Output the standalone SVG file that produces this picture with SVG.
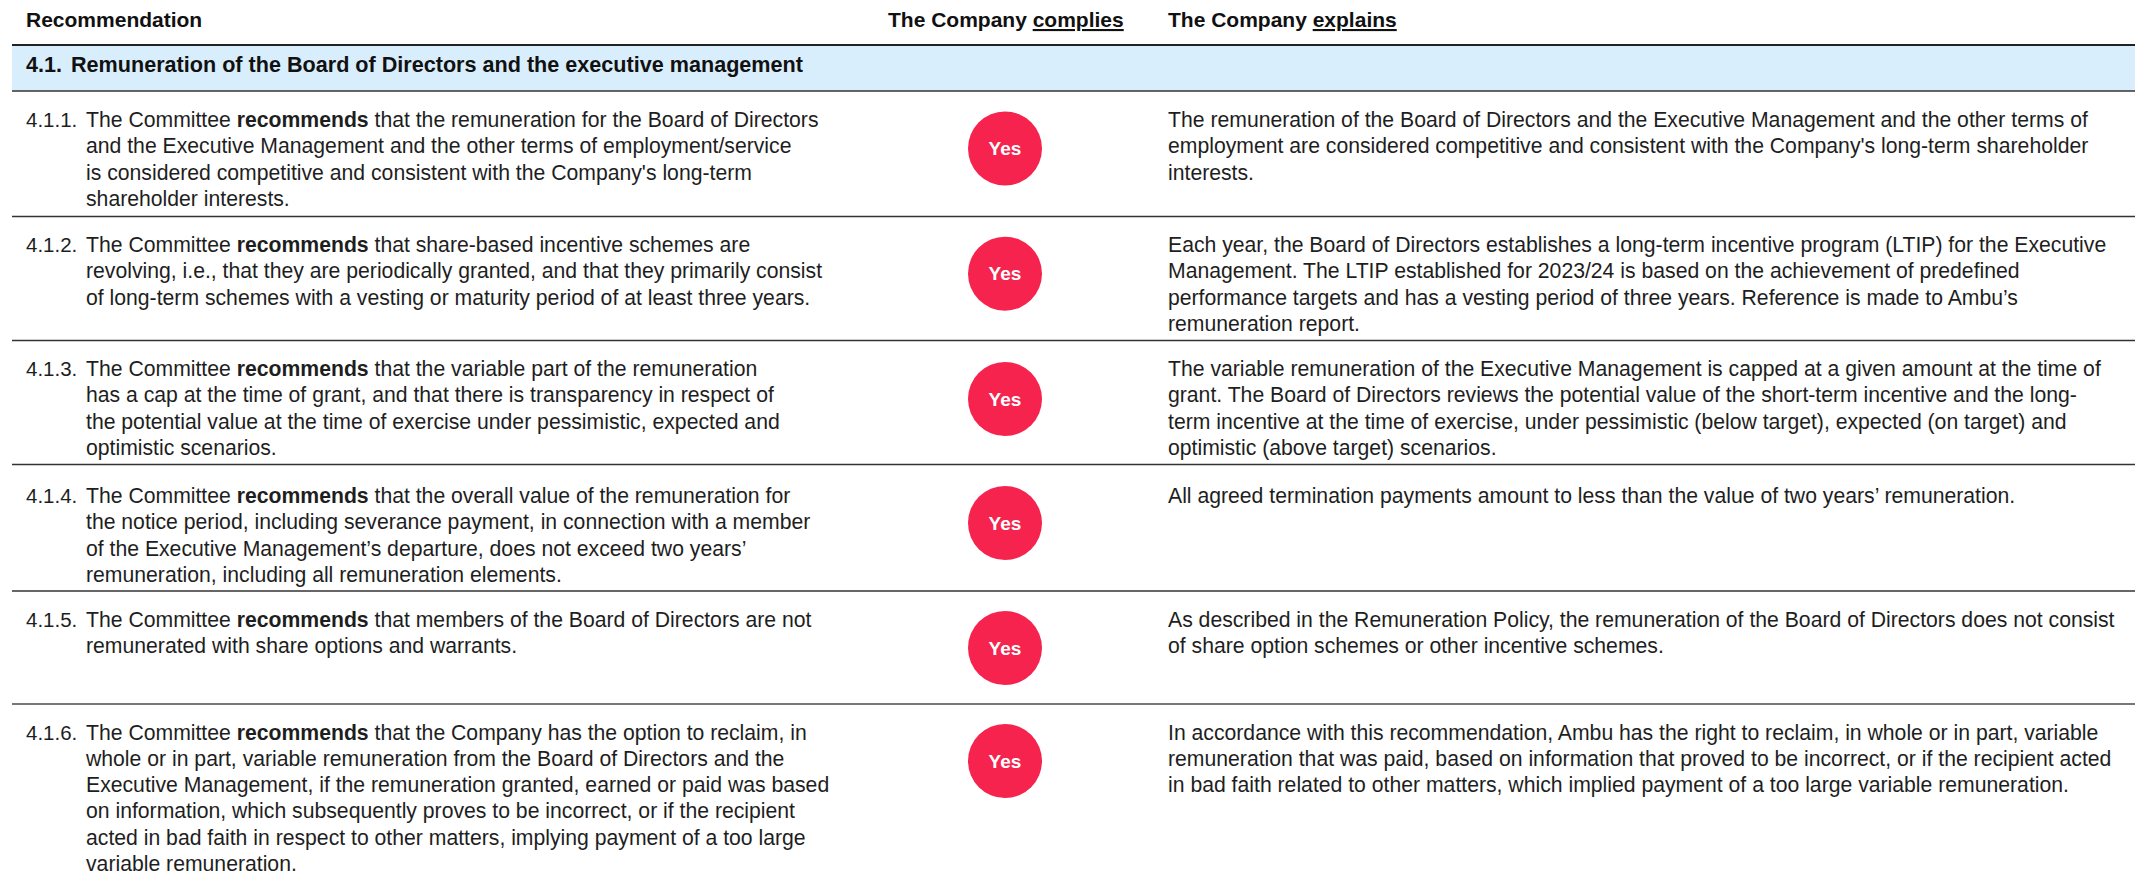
<svg xmlns="http://www.w3.org/2000/svg" width="2135" height="872" viewBox="0 0 2135 872">
<style>
text{font-family:"Liberation Sans",Arial,sans-serif;fill:#1e1e1e;font-size:21.2px}
.h{font-weight:bold;font-size:21px;fill:#111}
.t{font-weight:bold;font-size:21.6px;fill:#111}
.n{font-size:20.5px}
.b{font-weight:bold}
.u{text-decoration:underline}
.yes{font-weight:bold;fill:#fff;font-size:19px;text-anchor:middle}
.sep{stroke:#333;stroke-width:1.5}
.dot{fill:#f5234d}
</style>
<rect width="2135" height="872" fill="#fff"/>
<g id="header">
<text class="h" x="26" y="27">Recommendation</text>
<text class="h" x="888" y="27">The Company <tspan class="u">complies</tspan></text>
<text class="h" x="1168" y="27">The Company <tspan class="u">explains</tspan></text>
</g>
<g id="section">
<rect x="12" y="45" width="2123" height="46" fill="#d9eefc"/>
<line x1="12" y1="45" x2="2135" y2="45" stroke="#222" stroke-width="2"/>
<line x1="12" y1="91" x2="2135" y2="91" stroke="#333" stroke-width="1.5"/>
<text class="t" x="26" y="72">4.1.</text>
<text class="t" x="71" y="72">Remuneration of the Board of Directors and the executive management</text>
</g>
<g id="separators">
<line class="sep" x1="12" y1="216.5" x2="2135" y2="216.5"/>
<line class="sep" x1="12" y1="340.5" x2="2135" y2="340.5"/>
<line class="sep" x1="12" y1="464.5" x2="2135" y2="464.5"/>
<line class="sep" x1="12" y1="591" x2="2135" y2="591"/>
<line x1="12" y1="704" x2="2135" y2="704" stroke="#777" stroke-width="2"/>
</g>
<g id="row-4-1-1">
<text class="n" x="26" y="127">4.1.1.</text>
<text x="86" y="127">The Committee <tspan class="b">recommends</tspan> that the remuneration for the Board of Directors</text>
<text x="86" y="153.3">and the Executive Management and the other terms of employment/service</text>
<text x="86" y="179.6">is considered competitive and consistent with the Company's long-term</text>
<text x="86" y="205.9">shareholder interests.</text>
<circle class="dot" cx="1005" cy="148.5" r="37"/>
<text class="yes" x="1005" y="155">Yes</text>
<text x="1168" y="127">The remuneration of the Board of Directors and the Executive Management and the other terms of</text>
<text x="1168" y="153.3">employment are considered competitive and consistent with the Company's long-term shareholder</text>
<text x="1168" y="179.6">interests.</text>
</g>
<g id="row-4-1-2">
<text class="n" x="26" y="252">4.1.2.</text>
<text x="86" y="252">The Committee <tspan class="b">recommends</tspan> that share-based incentive schemes are</text>
<text x="86" y="278.3">revolving, i.e., that they are periodically granted, and that they primarily consist</text>
<text x="86" y="304.6">of long-term schemes with a vesting or maturity period of at least three years.</text>
<circle class="dot" cx="1005" cy="273.7" r="37"/>
<text class="yes" x="1005" y="280.2">Yes</text>
<text x="1168" y="252">Each year, the Board of Directors establishes a long-term incentive program (LTIP) for the Executive</text>
<text x="1168" y="278.3">Management. The LTIP established for 2023/24 is based on the achievement of predefined</text>
<text x="1168" y="304.6">performance targets and has a vesting period of three years. Reference is made to Ambu’s</text>
<text x="1168" y="330.9">remuneration report.</text>
</g>
<g id="row-4-1-3">
<text class="n" x="26" y="376">4.1.3.</text>
<text x="86" y="376">The Committee <tspan class="b">recommends</tspan> that the variable part of the remuneration</text>
<text x="86" y="402.3">has a cap at the time of grant, and that there is transparency in respect of</text>
<text x="86" y="428.6">the potential value at the time of exercise under pessimistic, expected and</text>
<text x="86" y="454.9">optimistic scenarios.</text>
<circle class="dot" cx="1005" cy="399" r="37"/>
<text class="yes" x="1005" y="405.5">Yes</text>
<text x="1168" y="376">The variable remuneration of the Executive Management is capped at a given amount at the time of</text>
<text x="1168" y="402.3">grant. The Board of Directors reviews the potential value of the short-term incentive and the long-</text>
<text x="1168" y="428.6">term incentive at the time of exercise, under pessimistic (below target), expected (on target) and</text>
<text x="1168" y="454.9">optimistic (above target) scenarios.</text>
</g>
<g id="row-4-1-4">
<text class="n" x="26" y="503">4.1.4.</text>
<text x="86" y="503">The Committee <tspan class="b">recommends</tspan> that the overall value of the remuneration for</text>
<text x="86" y="529.3">the notice period, including severance payment, in connection with a member</text>
<text x="86" y="555.6">of the Executive Management’s departure, does not exceed two years’</text>
<text x="86" y="581.9">remuneration, including all remuneration elements.</text>
<circle class="dot" cx="1005" cy="523" r="37"/>
<text class="yes" x="1005" y="529.5">Yes</text>
<text x="1168" y="503">All agreed termination payments amount to less than the value of two years’ remuneration.</text>
</g>
<g id="row-4-1-5">
<text class="n" x="26" y="627">4.1.5.</text>
<text x="86" y="627">The Committee <tspan class="b">recommends</tspan> that members of the Board of Directors are not</text>
<text x="86" y="653.3">remunerated with share options and warrants.</text>
<circle class="dot" cx="1005" cy="648" r="37"/>
<text class="yes" x="1005" y="654.5">Yes</text>
<text x="1168" y="627">As described in the Remuneration Policy, the remuneration of the Board of Directors does not consist</text>
<text x="1168" y="653.3">of share option schemes or other incentive schemes.</text>
</g>
<g id="row-4-1-6">
<text class="n" x="26" y="739.5">4.1.6.</text>
<text x="86" y="739.5">The Committee <tspan class="b">recommends</tspan> that the Company has the option to reclaim, in</text>
<text x="86" y="765.8">whole or in part, variable remuneration from the Board of Directors and the</text>
<text x="86" y="792.1">Executive Management, if the remuneration granted, earned or paid was based</text>
<text x="86" y="818.4">on information, which subsequently proves to be incorrect, or if the recipient</text>
<text x="86" y="844.7">acted in bad faith in respect to other matters, implying payment of a too large</text>
<text x="86" y="871">variable remuneration.</text>
<circle class="dot" cx="1005" cy="761" r="37"/>
<text class="yes" x="1005" y="767.5">Yes</text>
<text x="1168" y="739.5">In accordance with this recommendation, Ambu has the right to reclaim, in whole or in part, variable</text>
<text x="1168" y="765.8">remuneration that was paid, based on information that proved to be incorrect, or if the recipient acted</text>
<text x="1168" y="792.1">in bad faith related to other matters, which implied payment of a too large variable remuneration.</text>
</g>
</svg>
